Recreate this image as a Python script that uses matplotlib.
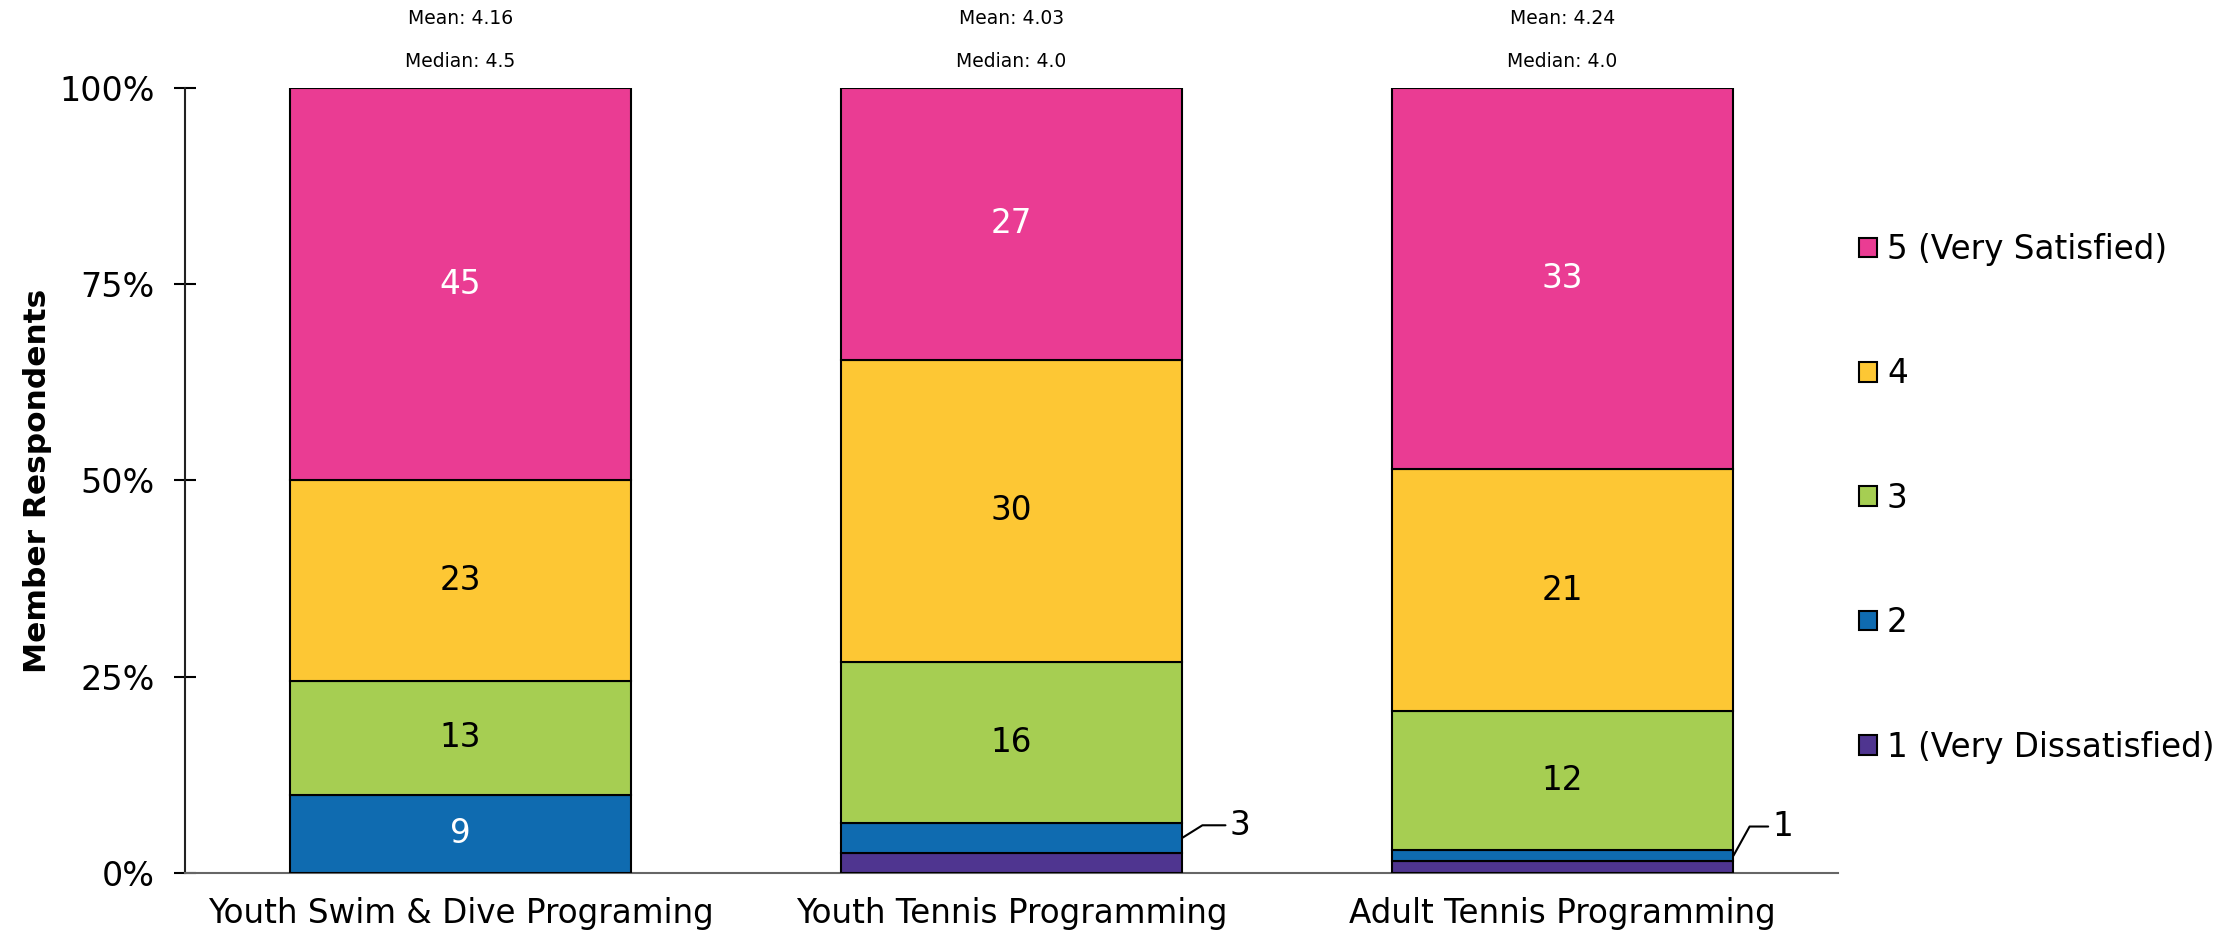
import numpy as np
import matplotlib.pyplot as plt

# Datos
programas = ['Youth Swim & Dive Programing', 'Youth Tennis Programming', 'Adult Tennis Programming']
niveles = ['1 (Very Dissatisfied)', '2', '3', '4', '5 (Very Satisfied)']
conteos = [
    [0, 2, 1],     # 1
    [9, 3, 1],     # 2
    [13, 16, 12],  # 3
    [23, 30, 21],  # 4
    [45, 27, 33],  # 5
]
medias = [4.16, 4.03, 4.24]
medianas = [4.5, 4.0, 4.0]

colores = ['#4F3590', '#0F6BB0', '#A6CE52', '#FDC734', '#EA3C93']
color_texto = ['white', 'white', 'black', 'black', 'white']

plt.rcParams['font.family'] = ['DejaVu Sans']

conteos = np.array(conteos, dtype=float)
totales = conteos.sum(axis=0)
pct = conteos / totales * 100

fig = plt.figure(figsize=(22.37, 9.34), dpi=100)
ax = fig.add_axes([0.0827, 0.0653, 0.739, 0.8405])

x = np.arange(len(programas))
ancho = 0.62
base = np.zeros(len(programas))
for i in range(len(niveles)):
    ax.bar(x, pct[i], ancho, bottom=base, color=colores[i],
           edgecolor='black', linewidth=1.5, label=niveles[i], zorder=3)
    for j in range(len(programas)):
        n = int(conteos[i, j])
        centro = base[j] + pct[i, j] / 2
        if pct[i, j] >= 8:
            ax.text(x[j], centro, str(n), ha='center', va='center',
                    fontsize=23.5, color=color_texto[i], zorder=4)
        elif i == 1 and n > 0:
            # etiqueta con linea guia para segmentos pequeños
            dx, dy, ang = (34, 9, 32) if j == 1 else (28, 21, 61)
            ax.annotate(str(n), xy=(x[j] + ancho / 2, centro),
                        xytext=(dx, dy), textcoords='offset points',
                        ha='left', va='center', fontsize=23.5,
                        arrowprops=dict(arrowstyle='-', color='black', lw=1.5,
                                        relpos=(0, 0.5), shrinkA=1, shrinkB=0,
                                        connectionstyle=f'angle,angleA=0,angleB={ang},rad=0'))
    base += pct[i]

# Media y mediana arriba de cada barra
for j in range(len(programas)):
    ax.annotate(f'Mean: {medias[j]:.2f}', xy=(x[j], 1.0),
                xycoords=('data', 'axes fraction'), xytext=(0, 50),
                textcoords='offset points', ha='center', va='center', fontsize=13.5)
    ax.annotate(f'Median: {medianas[j]:.1f}', xy=(x[j], 1.0),
                xycoords=('data', 'axes fraction'), xytext=(0, 19),
                textcoords='offset points', ha='center', va='center', fontsize=13.5)

ax.set_xlim(-0.5, 2.5)
ax.set_ylim(0, 100)
ax.set_yticks([0, 25, 50, 75, 100])
ax.set_yticklabels(['0%', '25%', '50%', '75%', '100%'])
ax.set_xticks(x)
ax.set_xticklabels(programas)
ax.tick_params(axis='y', direction='inout', length=16, width=1.5, labelsize=24, pad=14)
ax.tick_params(axis='x', length=0, labelsize=23.5, pad=17)

for lado in ['top', 'right']:
    ax.spines[lado].set_visible(False)
ax.spines['left'].set_linewidth(1.5)
ax.spines['left'].set_color('#222222')
ax.spines['bottom'].set_linewidth(1.5)
ax.spines['bottom'].set_color('#666666')

ax.set_ylabel('Member Respondents', fontsize=22.5, fontweight='bold', labelpad=5)

handles, labels = ax.get_legend_handles_labels()
fig.legend(handles[::-1], labels[::-1], loc='upper left', bbox_to_anchor=(0.818, 0.782),
           frameon=False, fontsize=23.5, handlelength=0.55, handleheight=0.55,
           handletextpad=0.3, labelspacing=2.8)

plt.savefig('out.png', dpi=100)
